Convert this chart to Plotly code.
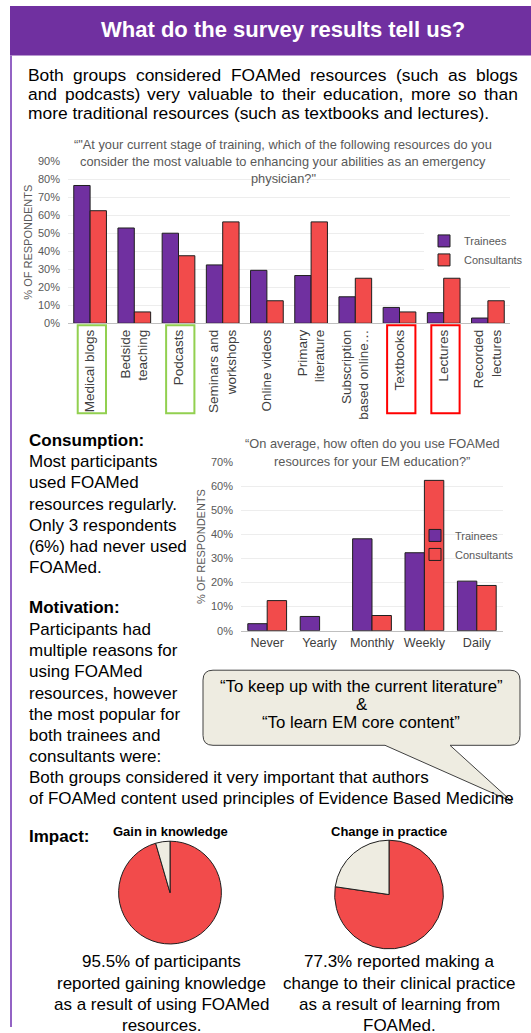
import plotly.graph_objects as go

W, H = 531, 1033
FONT = "Liberation Sans, Arial, sans-serif"
PURPLE = "#7030A0"
RED = "#F24B4B"
BEIGE = "#EEECE1"
GREY_TXT = "#595959"
EDGE = "#1F1F1F"

# --- data -------------------------------------------------------------------
resources = [
    "Medical blogs", "Bedside<br>teaching", "Podcasts", "Seminars and<br>workshops",
    "Online videos", "Primary<br>literature", "Subscription<br>based online…",
    "Textbooks", "Lectures", "Recorded<br>lectures",
]
trainees_valuable = [0.765, 0.529, 0.500, 0.324, 0.294, 0.265, 0.147, 0.088, 0.059, 0.029]
consultants_valuable = [0.625, 0.063, 0.375, 0.563, 0.125, 0.563, 0.250, 0.063, 0.250, 0.125]

frequency = ["Never", "Yearly", "Monthly", "Weekly", "Daily"]
trainees_freq = [0.029, 0.059, 0.382, 0.324, 0.206]
consultants_freq = [0.125, 0.0, 0.063, 0.625, 0.188]

knowledge_labels = ["Gained knowledge", "No gain"]
knowledge_values = [95.5, 4.5]
practice_labels = ["Changed practice", "No change"]
practice_values = [77.3, 22.7]


def px(x):
    return x / W


def py(y):
    return 1 - y / H


annotations = []
shapes = []


def text(x, y, s, size=17, bold=False, color="#000000", xanchor="left"):
    if bold:
        s = "<b>" + s + "</b>"
    annotations.append(dict(
        xref="paper", yref="paper", x=px(x), y=py(y), text=s, showarrow=False,
        xanchor=xanchor, yanchor="middle", align=xanchor if xanchor != "center" else "center",
        font=dict(family=FONT, size=size, color=color),
    ))


def lines(x, y0, step, rows, **kw):
    for i, row in enumerate(rows):
        text(x, y0 + i * step, row, **kw)


# rough Arial / Liberation Sans advance widths (1/1000 em) for justified lines
_ADV = dict(zip("abcdefghijklmnopqrstuvwxyz",
                [556, 556, 500, 556, 556, 278, 556, 556, 222, 222, 500, 222, 833,
                 556, 556, 556, 556, 333, 500, 278, 556, 500, 722, 500, 500, 500]))
_ADV.update({"A": 667, "B": 667, "F": 611, "M": 833, "O": 778, "(": 333, ")": 333,
             ",": 278, ".": 278})


def justify(x0, x1, y, row, size):
    words = row.split(" ")
    widths = [sum(_ADV.get(c, 556) for c in w) * size / 1000 for w in words]
    gap = (x1 - x0 - sum(widths)) / (len(words) - 1)
    x = x0
    for w, wd in zip(words, widths):
        text(x, y, w, size=size)
        x += wd + gap


def outline(values):
    # no outline on empty bars
    return [1 if v > 0 else 0 for v in values]


fig = go.Figure()

# --- chart 1: most valuable resources ---------------------------------------
fig.add_bar(x=resources, y=trainees_valuable, name="Trainees",
            marker=dict(color=PURPLE, line=dict(color=EDGE, width=1)),
            xaxis="x", yaxis="y", legend="legend")
fig.add_bar(x=resources, y=consultants_valuable, name="Consultants",
            marker=dict(color=RED, line=dict(color=EDGE, width=1)),
            xaxis="x", yaxis="y", legend="legend")

# --- chart 2: how often -------------------------------------------------------
fig.add_bar(x=frequency, y=trainees_freq, name="Trainees",
            marker=dict(color=PURPLE, line=dict(color=EDGE, width=outline(trainees_freq))),
            xaxis="x2", yaxis="y2", legend="legend2")
fig.add_bar(x=frequency, y=consultants_freq, name="Consultants",
            marker=dict(color=RED, line=dict(color=EDGE, width=outline(consultants_freq))),
            xaxis="x2", yaxis="y2", legend="legend2")

# --- pies --------------------------------------------------------------------
fig.add_trace(go.Pie(
    labels=knowledge_labels, values=knowledge_values, sort=False, direction="clockwise",
    rotation=0, textinfo="none", showlegend=False,
    marker=dict(colors=[RED, BEIGE], line=dict(color=EDGE, width=1)),
    domain=dict(x=[px(118), px(222)], y=[py(949), py(845)]),
))
fig.add_trace(go.Pie(
    labels=practice_labels, values=practice_values, sort=False, direction="clockwise",
    rotation=0, textinfo="none", showlegend=False,
    marker=dict(colors=[RED, BEIGE], line=dict(color=EDGE, width=1)),
    domain=dict(x=[px(334), px(444)], y=[py(954), py(844)]),
))

# --- header & frame -----------------------------------------------------------
shapes.append(dict(type="rect", xref="paper", yref="paper", x0=px(10), x1=1, y0=py(50), y1=1,
                   fillcolor=PURPLE, line=dict(width=0), layer="below"))
shapes.append(dict(type="line", xref="paper", yref="paper", x0=px(11), x1=px(11), y0=0, y1=py(50),
                   line=dict(color="#9363C4", width=2)))
text(283, 24, "What do the survey results tell us?", size=22, bold=True, color="white", xanchor="center")

justify(26, 516, 70, "Both groups considered FOAMed resources (such as blogs", 17.4)
justify(26, 516, 89, "and podcasts) very valuable to their education, more so than", 17.4)
text(26, 108, "more traditional resources (such as textbooks and lectures).", size=17.4)

# chart 1 title
lines(283, 140, 17.5, [
    "“\"At your current stage of training, which of the following resources do you",
    "consider the most valuable to enhancing your abilities as an emergency",
    "physician?\"",
], size=12.8, color=GREY_TXT, xanchor="center")

# highlighted category labels
for idx, col in [(0, "#92D050"), (2, "#92D050"), (7, "#FF0000"), (8, "#FF0000")]:
    shapes.append(dict(type="rect", xref="x", yref="paper", x0=idx - 0.28, x1=idx + 0.36,
                       y0=py(412), y1=py(323), line=dict(color=col, width=2)))

# consumption / motivation text
text(27, 440, "Consumption:", bold=True)
lines(27, 461, 21.5, [
    "Most participants", "used FOAMed", "resources regularly.",
    "Only 3 respondents", "(6%) had never used", "FOAMed.",
])
text(27, 609, "Motivation:", bold=True)
lines(27, 631, 21.4, [
    "Participants had", "multiple reasons for", "using FOAMed", "resources, however",
    "the most popular for", "both trainees and", "consultants were:",
    "Both groups considered it very important that authors",
    "of FOAMed content used principles of Evidence Based Medicine",
])

# chart 2 title
lines(372, 443, 17.5, [
    "“On average, how often do you use FOAMed",
    "resources for your EM education?”",
], size=12.8, color=GREY_TXT, xanchor="center")

# speech bubble
L, R, T, B, r = 203, 520, 672, 748, 10
xa, xb, tip = 385, 450, (512, 805)


def P(x, y):
    return f"{px(x):.5f},{py(y):.5f}"


path = (
    f"M{P(L + r, T)} L{P(R - r, T)} Q{P(R, T)} {P(R, T + r)} L{P(R, B - r)} "
    f"Q{P(R, B)} {P(R - r, B)} L{P(xb, B)} L{P(*tip)} L{P(xa, B)} L{P(L + r, B)} "
    f"Q{P(L, B)} {P(L, B - r)} L{P(L, T + r)} Q{P(L, T)} {P(L + r, T)} Z"
)
shapes.append(dict(type="path", xref="paper", yref="paper", path=path,
                   fillcolor=BEIGE, line=dict(color="#404040", width=1)))
lines(361, 689, 18, [
    "“To keep up with the current literature”", "&", "“To learn EM core content”",
], size=16.8, xanchor="center")

# impact
text(27, 840, "Impact:", bold=True)
text(170, 835, "Gain in knowledge", size=13, bold=True, xanchor="center")
text(389, 835, "Change in practice", size=13, bold=True, xanchor="center")
lines(161, 967, 21.5, [
    "95.5% of participants", "reported gaining knowledge",
    "as a result of using FOAMed", "resources.",
], xanchor="center")
lines(399, 967, 21.5, [
    "77.3% reported making a", "change to their clinical practice",
    "as a result of learning from", "FOAMed.",
], xanchor="center")

axis_common = dict(showline=True, linecolor="#BFBFBF", ticks="", showgrid=False, fixedrange=True)
yaxis_common = dict(tickformat=".0%", dtick=0.1, gridcolor="#EDEDED", zeroline=False, ticks="",
                    tickfont=dict(size=11, color=GREY_TXT), showline=False, fixedrange=True,
                    ticklabelstandoff=7)

fig.update_layout(
    width=W, height=H, margin=dict(l=0, r=0, t=0, b=0),
    paper_bgcolor="white", plot_bgcolor="rgba(0,0,0,0)",
    font=dict(family=FONT, color="#404040"),
    barmode="group", bargap=0.26, bargroupgap=0,
    xaxis=dict(domain=[px(68), px(510)], anchor="y", tickangle=-90,
               tickfont=dict(size=13.5, color="#404040"), **axis_common),
    yaxis=dict(domain=[py(321), py(157)], anchor="x", range=[0, 0.9],
               title=dict(text="% OF RESPONDENTS", font=dict(size=11, color=GREY_TXT), standoff=3),
               **yaxis_common),
    xaxis2=dict(domain=[px(241), px(503)], anchor="y2",
                tickfont=dict(size=12.6, color="#404040"), **axis_common),
    yaxis2=dict(domain=[py(632), py(461.7)], anchor="x2", range=[0, 0.7],
                title=dict(text="% OF RESPONDENTS", font=dict(size=11, color=GREY_TXT), standoff=3),
                **yaxis_common),
    legend=dict(x=px(424), y=py(223), xanchor="left", yanchor="top", bgcolor="white",
                font=dict(size=11, color=GREY_TXT), itemclick=False),
    legend2=dict(x=px(415), y=py(521), xanchor="left", yanchor="top", bgcolor="rgba(0,0,0,0)",
                 font=dict(size=11, color=GREY_TXT), itemclick=False),
    annotations=annotations,
    shapes=shapes,
)

# the page body has a default 8px margin; drop it so the figure fills the window exactly
fig.write_html("out.html", config={"displayModeBar": False},
               post_script="document.body.style.margin='0';")
